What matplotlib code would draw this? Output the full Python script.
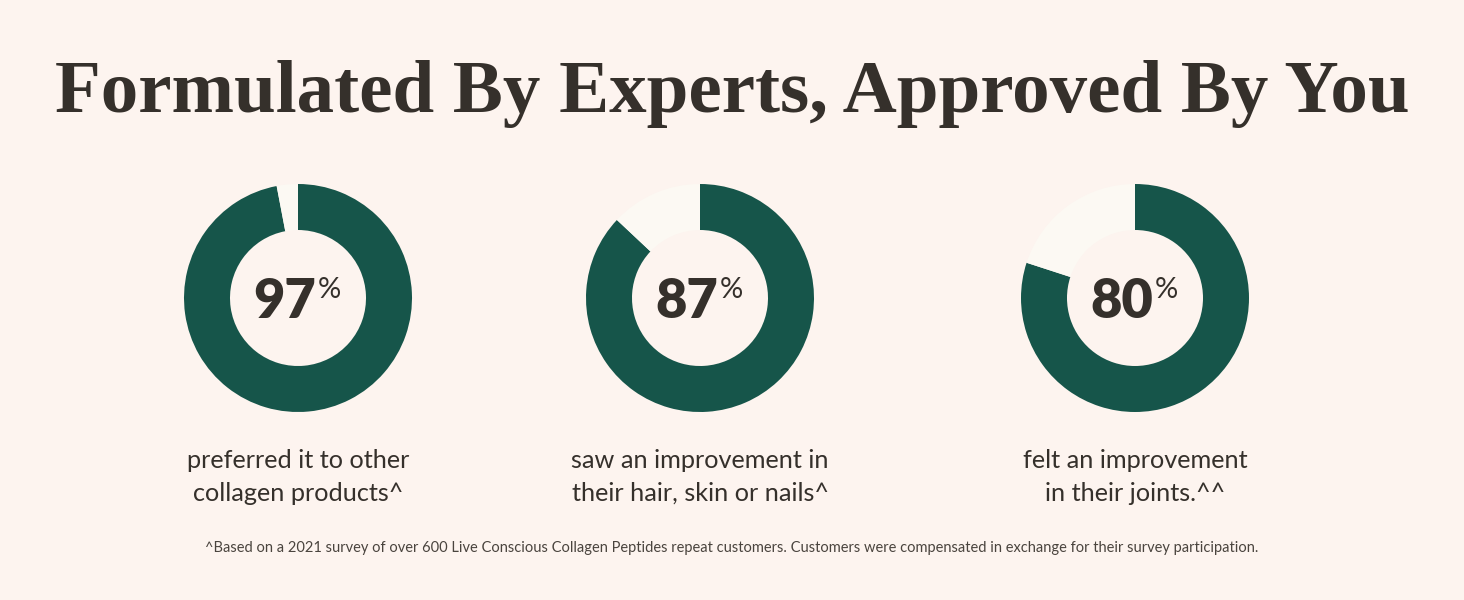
import matplotlib.pyplot as plt

# chart values
percents = [97, 87, 80]
labels = [
    "preferred it to other\ncollagen products^",
    "saw an improvement in\ntheir hair, skin or nails^",
    "felt an improvement\nin their joints.^^",
]
title = "Formulated By Experts, Approved By You"
footnote = ("^Based on a 2021 survey of over 600 Live Conscious Collagen Peptides repeat customers. "
            "Customers were compensated in exchange for their survey participation.")

bg = "#fdf4ef"
green = "#16554a"
rest = "#fcf9f3"
dark = "#35302b"

W, H = 1464, 600
fig = plt.figure(figsize=(W / 100, H / 100), dpi=100, facecolor=bg)
ax = fig.add_axes([0, 0, 1, 1])
ax.set_facecolor(bg)

ax.text(W / 2, H - 94, title, ha="center", va="center", fontsize=54,
        fontfamily="Liberation Serif", fontweight="bold", color=dark)

centers_x = [298, 700, 1135]
cy = H - 298
for cx, p, lab in zip(centers_x, percents, labels):
    ax.pie([p, 100 - p], colors=[green, rest], startangle=90, counterclock=False,
           center=(cx, cy), radius=114, wedgeprops=dict(width=46, linewidth=0),
           frame=True)
    ax.text(cx + 18, cy - 4, str(p), ha="right", va="center", fontsize=39,
            fontfamily="Lato", fontweight="heavy", color=dark)
    ax.text(cx + 20, cy + 8, "%", ha="left", va="center", fontsize=21,
            fontfamily="Lato", color=dark)
    ax.text(cx, H - 477, lab, ha="center", va="center", fontsize=18.2,
            fontfamily="Lato", color=dark, linespacing=1.5)

ax.set_xlim(0, W)
ax.set_ylim(0, H)
ax.set_aspect("equal")
ax.axis("off")

ax.text(W / 2, H - 548, footnote, ha="center", va="center", fontsize=10.5,
        fontfamily="Lato", color="#4a443e")

fig.savefig("out.png", dpi=100, facecolor=bg)
